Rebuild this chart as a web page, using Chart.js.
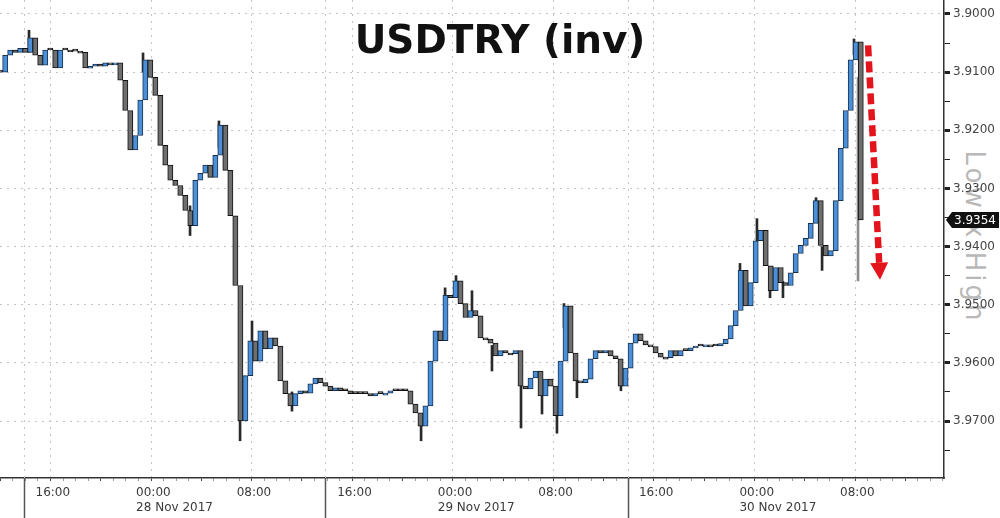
<!DOCTYPE html>
<html>
<head>
<meta charset="utf-8">
<title>USDTRY (inv)</title>
<script src="https://cdn.jsdelivr.net/npm/chart.js@4.4.0/dist/chart.umd.min.js"></script>
<style>
  html, body { margin: 0; padding: 0; background: #fff; }
  #wrap { position: relative; width: 1000px; height: 518px; }
  #wrap canvas { position: relative; z-index: 1; }
  .title {
    position: absolute; left: 0; top: 20px; width: 1000px; z-index: 2;
    text-align: center; font: bold 39px "DejaVu Sans", sans-serif; line-height: 39px; color: #111;
  }
  .range {
    position: absolute; left: 870px; top: 222px; width: 210px; height: 30px; z-index: 0;
    line-height: 30px; text-align: center; font: 26px "DejaVu Sans", sans-serif;
    color: #b8b8b8; letter-spacing: 3px; transform: rotate(90deg);
  }
</style>
</head>
<body>
<div id="wrap">
  <div class="title">USDTRY (inv)</div>
  <div class="range">Low x High</div>
  <canvas id="fxChart"></canvas>
</div>
<script>
// hours counted from 27 Nov 2017 16:00
const startHour = -4.0;
const stepHours = 0.398;

const closes = [
  3.9100, 3.9071, 3.9062, 3.9066, 3.9059, 3.9066, 3.9041, 3.9071, 3.9088, 3.9062,
  3.9062, 3.9093, 3.9062, 3.9062, 3.9064, 3.9064, 3.9066, 3.9093, 3.9090, 3.9086,
  3.9090, 3.9084, 3.9086, 3.9084, 3.9114, 3.9166, 3.9234, 3.9209, 3.9148, 3.9079,
  3.9109, 3.9140, 3.9226, 3.9260, 3.9286, 3.9295, 3.9312, 3.9338, 3.9364, 3.9286,
  3.9274, 3.9260, 3.9281, 3.9243, 3.9191, 3.9269, 3.9347, 3.9467, 3.9700, 3.9622,
  3.9562, 3.9597, 3.9545, 3.9576, 3.9557, 3.9571, 3.9631, 3.9653, 3.9674, 3.9653,
  3.9648, 3.9652, 3.9636, 3.9626, 3.9634, 3.9640, 3.9648, 3.9643, 3.9648, 3.9648,
  3.9653, 3.9653, 3.9653, 3.9653, 3.9657, 3.9653, 3.9653, 3.9652, 3.9648, 3.9648,
  3.9648, 3.9648, 3.9671, 3.9686, 3.9709, 3.9674, 3.9597, 3.9545, 3.9562, 3.9484,
  3.9488, 3.9459, 3.9498, 3.9522, 3.9510, 3.9519, 3.9557, 3.9559, 3.9566, 3.9588,
  3.9579, 3.9583, 3.9584, 3.9579, 3.9640, 3.9645, 3.9626, 3.9614, 3.9657, 3.9628,
  3.9640, 3.9691, 3.9597, 3.9502, 3.9583, 3.9631, 3.9634, 3.9628, 3.9593, 3.9579,
  3.9583, 3.9579, 3.9588, 3.9593, 3.9640, 3.9609, 3.9566, 3.9550, 3.9562, 3.9569,
  3.9572, 3.9583, 3.9590, 3.9591, 3.9579, 3.9588, 3.9579, 3.9579, 3.9574, 3.9571,
  3.9571, 3.9569, 3.9571, 3.9571, 3.9567, 3.9559, 3.9536, 3.9510, 3.9441, 3.9502,
  3.9462, 3.9390, 3.9372, 3.9433, 3.9476, 3.9436, 3.9462, 3.9467, 3.9445, 3.9412,
  3.9398, 3.9386, 3.9360, 3.9321, 3.9398, 3.9416, 3.9407, 3.9321, 3.9231, 3.9166,
  3.9079, 3.9048, 3.9354
];

// spikes beyond the closes
const wickHours = [-1.71, 7.36, 11.10, 13.40, 15.08, 16.03, 19.21, 29.48, 31.39, 32.26, 33.53, 35.12, 37.43,
  39.10, 40.29, 40.85, 41.88, 45.38, 54.85, 56.20, 57.24, 58.27, 60.90, 61.38, 63.92, 64.24];
const wickLows = [3.9028, 3.9067, 3.9330, 3.9184, 3.9680, 3.9528, 3.9650, 3.9690, 3.9471, 3.9450, 3.9476, 3.9570, 3.9630,
  3.9640, 3.9660, 3.9498, 3.9630, 3.9620, 3.9429, 3.9352, 3.9460, 3.9460, 3.9316, 3.9400, 3.9043, 3.9109];
const wickHighs = [3.9066, 3.9100, 3.9381, 3.9230, 3.9734, 3.9580, 3.9683, 3.9734, 3.9500, 3.9480, 3.9515, 3.9614, 3.9712,
  3.9688, 3.9721, 3.9540, 3.9660, 3.9648, 3.9470, 3.9390, 3.9488, 3.9488, 3.9350, 3.9441, 3.9070, 3.9459];

const sessionBreaks = [-2.11, 21.84, 45.94];
const xMin = -4.018, xMax = 71.08;
const yMin = 3.8976, yMax = 3.9798;
const arrowFrom = { h: 65.04, v: 3.9054 };
const arrowTo = { h: 65.99, v: 3.9457 };

const months = ['Jan', 'Feb', 'Mar', 'Apr', 'May', 'Jun', 'Jul', 'Aug', 'Sep', 'Oct', 'Nov', 'Dec'];
const baseTime = Date.UTC(2017, 10, 27, 16, 0);

const isMajorY = v => Math.round(v * 1000) % 10 === 0;
const pad = n => String(n).padStart(2, '0');

function timeLabel(h) {
  if (h % 8 !== 0) return '';
  const d = new Date(baseTime + h * 3600e3);
  const hh = pad(d.getUTCHours()) + ':00';
  if (d.getUTCHours() === 0) {
    return [hh, d.getUTCDate() + ' ' + months[d.getUTCMonth()] + ' ' + d.getUTCFullYear()];
  }
  return hh;
}

const candleData = closes.map((c, i) => ({ x: startHour + i * stepHours, y: [i ? closes[i - 1] : c, c] }));
const wickData = wickHours.map((h, k) => ({ x: h, y: [wickLows[k], wickHighs[k]] }));
const isUp = i => i > 0 && closes[i] < closes[i - 1];

const overlay = {
  id: 'overlay',
  beforeDatasetsDraw(chart) {
    const { ctx, chartArea: a, scales: { x } } = chart;
    ctx.save();
    ctx.strokeStyle = '#c4c4c4';
    ctx.lineWidth = 1;
    ctx.setLineDash([2, 5]);
    sessionBreaks.forEach(h => {
      const px = Math.round(x.getPixelForValue(h)) + 0.5;
      ctx.beginPath(); ctx.moveTo(px, a.top); ctx.lineTo(px, a.bottom); ctx.stroke();
    });
    ctx.restore();
  },
  afterDraw(chart) {
    const { ctx, chartArea: a, scales: { x, y } } = chart;
    ctx.save();
    // session separators under the time axis
    ctx.strokeStyle = '#555';
    ctx.lineWidth = 1.5;
    sessionBreaks.forEach(h => {
      const px = Math.round(x.getPixelForValue(h)) + 0.5;
      ctx.beginPath(); ctx.moveTo(px, a.bottom); ctx.lineTo(px, chart.height); ctx.stroke();
    });

    // red dashed arrow
    const x1 = x.getPixelForValue(arrowFrom.h), y1 = y.getPixelForValue(arrowFrom.v);
    const x2 = x.getPixelForValue(arrowTo.h), y2 = y.getPixelForValue(arrowTo.v);
    const len = Math.hypot(x2 - x1, y2 - y1);
    const ux = (x2 - x1) / len, uy = (y2 - y1) / len;
    const headLen = 17, headW = 9;
    const bx = x2 - ux * headLen, by = y2 - uy * headLen;
    ctx.strokeStyle = '#e3141c';
    ctx.fillStyle = '#e3141c';
    ctx.lineWidth = 6.5;
    ctx.setLineDash([11, 5]);
    ctx.beginPath(); ctx.moveTo(x1, y1); ctx.lineTo(bx, by); ctx.stroke();
    ctx.setLineDash([]);
    ctx.beginPath();
    ctx.moveTo(x2, y2);
    ctx.lineTo(bx - uy * headW, by + ux * headW);
    ctx.lineTo(bx + uy * headW, by - ux * headW);
    ctx.closePath(); ctx.fill();

    // last price tag
    const last = closes[closes.length - 1];
    const yp = Math.round(y.getPixelForValue(last));
    const xr = a.right + 2;
    ctx.fillStyle = '#111';
    ctx.beginPath();
    ctx.moveTo(xr, yp);
    ctx.lineTo(xr + 6, yp - 8);
    ctx.lineTo(xr + 53, yp - 8);
    ctx.lineTo(xr + 53, yp + 8);
    ctx.lineTo(xr + 6, yp + 8);
    ctx.closePath(); ctx.fill();
    ctx.fillStyle = '#fff';
    ctx.font = '12px "DejaVu Sans"';
    ctx.textBaseline = 'middle';
    ctx.textAlign = 'left';
    ctx.fillText(last.toFixed(4), xr + 8, yp + 1);
    ctx.restore();
  }
};

Chart.defaults.font.family = '"DejaVu Sans", sans-serif';
Chart.defaults.font.size = 12;
Chart.defaults.color = '#3a3a3a';

const blue = '#4a8fd8', blueEdge = '#17324f';
const grey = '#6e6e6e', greyEdge = '#111';

new Chart(document.getElementById('fxChart'), {
  type: 'bar',
  data: {
    datasets: [
      {
        label: 'USDTRY',
        data: candleData,
        grouped: false,
        order: 1,
        barThickness: 5.2,
        minBarLength: 2,
        borderWidth: 1,
        borderSkipped: false,
        backgroundColor: c => isUp(c.dataIndex) ? blue : grey,
        borderColor: c => isUp(c.dataIndex) ? blueEdge : greyEdge
      },
      {
        label: 'range',
        data: wickData,
        grouped: false,
        order: 2,
        barThickness: 2,
        borderWidth: 0,
        backgroundColor: c => c.dataIndex === wickHours.length - 1 ? '#8c8c8c' : '#2a2a2a'
      }
    ]
  },
  options: {
    responsive: true,
    maintainAspectRatio: false,
    animation: false,
    events: [],
    layout: { padding: 0 },
    plugins: {
      legend: { display: false },
      tooltip: { enabled: false },
      title: { display: false }
    },
    scales: {
      x: {
        type: 'linear',
        position: 'bottom',
        min: xMin,
        max: xMax,
        offset: false,
        afterFit: s => { s.height = 40; s.paddingLeft = 0; s.paddingRight = 0; },
        border: { display: true, color: '#333', width: 1.5, dash: [2, 5] },
        grid: {
          offset: false,
          color: c => (c.tick && c.tick.value % 8 === 0) ? '#c4c4c4' : 'rgba(0,0,0,0)',
          tickColor: c => (c.tick && c.tick.value % 4 === 0) ? '#444' : '#999',
          tickLength: 3,
          tickWidth: 1
        },
        ticks: {
          stepSize: 1,
          includeBounds: false,
          autoSkip: false,
          maxRotation: 0,
          align: 'start',
          labelOffset: -15,
          padding: 4,
          font: { size: 12, lineHeight: 1.25 },
          callback: v => timeLabel(v)
        }
      },
      y: {
        type: 'linear',
        position: 'right',
        reverse: true,
        beginAtZero: false,
        min: yMin,
        max: yMax,
        afterFit: s => { s.width = 56; s.paddingTop = 0; s.paddingBottom = 0; },
        border: { display: true, color: '#333', width: 1.5, dash: [2, 5] },
        grid: {
          color: c => (c.tick && isMajorY(c.tick.value)) ? '#c4c4c4' : 'rgba(0,0,0,0)',
          tickColor: '#222',
          tickLength: 6,
          tickWidth: c => (c.tick && isMajorY(c.tick.value)) ? 3 : 1
        },
        ticks: {
          stepSize: 0.005,
          includeBounds: false,
          autoSkip: false,
          padding: 3,
          color: '#444',
          callback: v => isMajorY(v) ? v.toFixed(4) : ''
        }
      }
    }
  },
  plugins: [overlay]
});
</script>
</body>
</html>
